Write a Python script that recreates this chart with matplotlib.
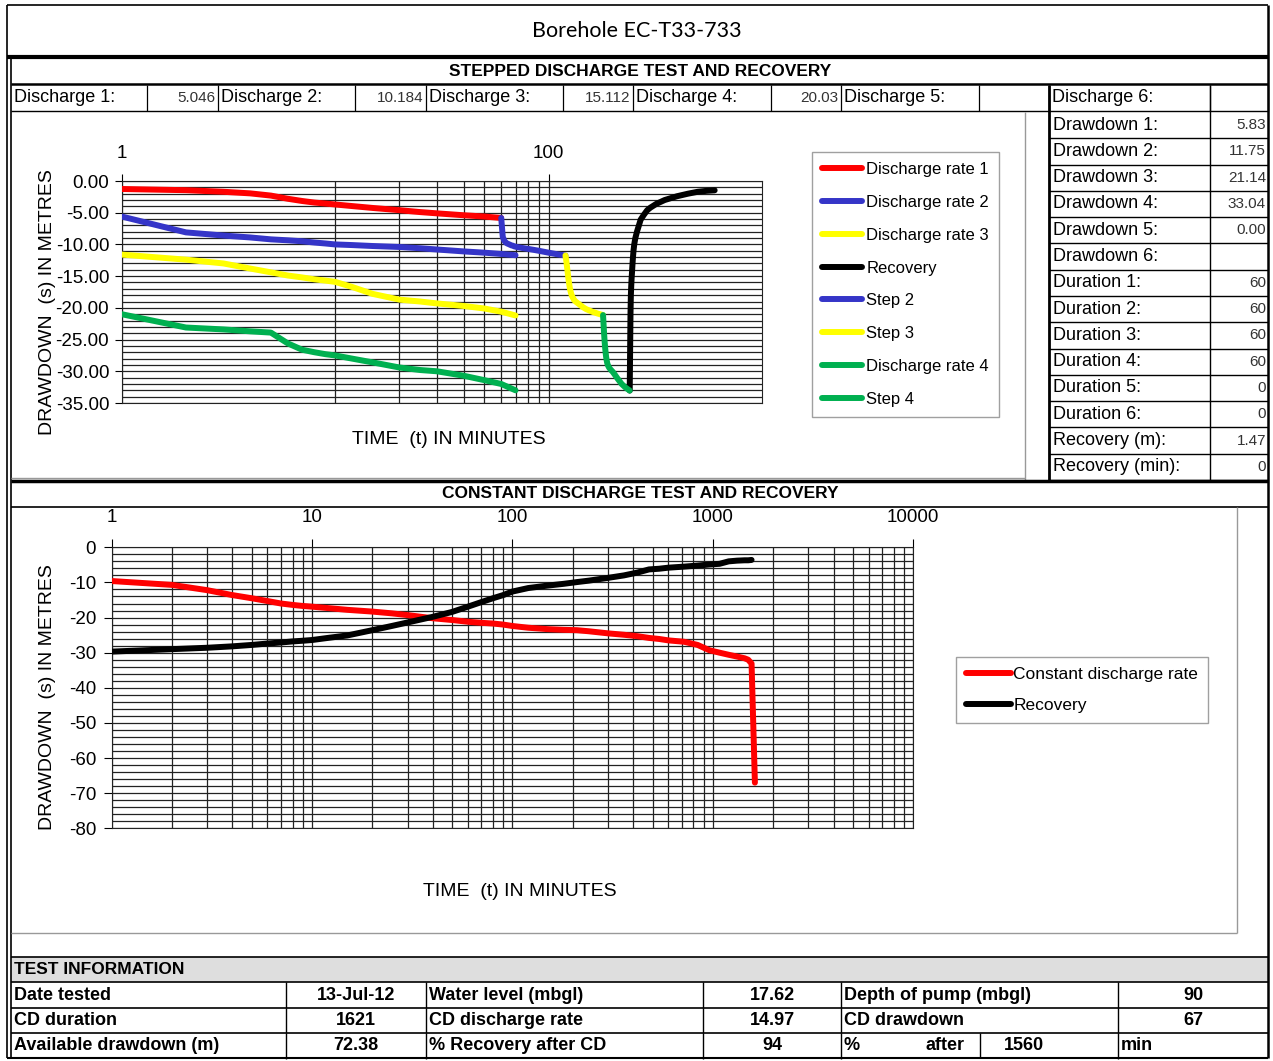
import matplotlib
matplotlib.use("Agg")
import matplotlib.pyplot as plt
from matplotlib.ticker import FixedLocator, FuncFormatter, NullFormatter, LogLocator, MultipleLocator

plt.rcParams['font.family'] = ['Liberation Sans', 'DejaVu Sans']
plt.rcParams['axes.unicode_minus'] = False

W, H = 1273, 1061

# ---- stepped discharge test (minutes, metres) ----
t_step1 = [1, 2, 3, 4, 5, 6, 7, 8, 9, 10, 12, 15, 20, 25, 30, 40, 50, 60]
dd_rate1 = [-1.26, -1.45, -1.7, -1.95, -2.3, -2.8, -3.15, -3.4, -3.55, -3.7, -3.95, -4.25, -4.6, -4.9, -5.1, -5.4, -5.6, -5.83]

t_rates = [1, 2, 3, 4, 5, 6, 7, 8, 9, 10, 12, 15, 20, 25, 30, 40, 50, 60, 70]
dd_rate2 = [-5.6, -8.1, -8.6, -8.9, -9.2, -9.35, -9.5, -9.7, -9.85, -10.0, -10.1, -10.25, -10.4, -10.6, -10.8, -11.1, -11.3, -11.5, -11.7]
dd_rate3 = [-11.6, -12.4, -13.0, -13.8, -14.4, -14.9, -15.2, -15.5, -15.7, -15.9, -16.7, -17.8, -18.7, -19.0, -19.3, -19.7, -20.1, -20.6, -21.2]
dd_rate4 = [-21.0, -23.1, -23.4, -23.7, -23.9, -25.6, -26.6, -27.0, -27.3, -27.5, -28.0, -28.6, -29.4, -29.8, -30.0, -30.7, -31.4, -32.0, -33.0]

t_step2 = [60, 61, 62, 63, 64, 65, 66, 67, 68, 69, 70, 72, 75, 80, 85, 90, 100, 110, 120]
dd_step2 = [-5.83, -8.8, -9.4, -9.7, -9.85, -9.95, -10.05, -10.15, -10.2, -10.3, -10.35, -10.45, -10.55, -10.7, -10.85, -11.0, -11.3, -11.55, -11.75]

t_step3 = [120, 121, 122, 123, 124, 125, 126, 127, 128, 129, 130, 132, 135, 140, 145, 150, 160, 170, 180]
dd_step3 = [-11.75, -12.5, -13.5, -14.5, -15.5, -16.3, -17.0, -17.5, -17.9, -18.2, -18.4, -18.8, -19.1, -19.5, -19.9, -20.2, -20.6, -20.9, -21.14]

t_step4 = [180, 181, 182, 183, 184, 185, 186, 187, 188, 189, 190, 192, 195, 200, 205, 210, 220, 230, 240]
dd_step4 = [-21.14, -22.6, -24.0, -25.2, -26.2, -27.0, -27.7, -28.2, -28.6, -28.9, -29.1, -29.4, -29.7, -30.1, -30.6, -31.1, -32.0, -32.6, -33.04]

t_rec = [240, 241, 242, 243, 244, 245, 246, 247, 248, 249, 250, 252, 255, 260, 265, 270, 280, 290, 300, 320, 350, 400, 450, 500, 550, 600]
dd_rec = [-33.04, -27.0, -21.0, -18.0, -16.5, -15.3, -14.4, -13.4, -12.5, -11.7, -11.0, -10.0, -9.0, -7.9, -7.0, -6.1, -5.3, -4.6, -4.2, -3.6, -3.0, -2.4, -2.0, -1.7, -1.55, -1.47]

# ---- constant discharge test ----
t_cd = [1, 2, 3, 4, 5, 6, 7, 8, 9, 10, 12, 15, 20, 25, 30, 40, 50, 60, 70, 80, 90, 100, 120, 150, 180, 210, 240,
        300, 360, 420, 480, 540, 600, 720, 840, 960, 1080, 1200, 1320, 1440, 1500, 1560, 1621]
dd_cd = [-9.6, -10.7, -12.2, -13.6, -14.5, -15.3, -16.0, -16.4, -16.7, -16.9, -17.3, -17.8, -18.3, -18.8, -19.3,
         -20.2, -20.7, -21.2, -21.5, -21.7, -22.0, -22.4, -22.9, -23.3, -23.5, -23.6, -23.9,
         -24.5, -24.9, -25.3, -25.8, -26.1, -26.5, -26.9, -27.8, -29.3, -30.0, -30.6, -31.1, -31.6, -32.0, -33.1, -67.0]
t_cdrec = t_cd[:-1]
dd_cdrec = [-29.7, -29.0, -28.6, -28.2, -27.8, -27.4, -27.1, -26.8, -26.6, -26.4, -25.8, -25.1, -23.6, -22.4, -21.4,
            -19.8, -18.4, -16.9, -15.6, -14.5, -13.6, -12.6, -11.6, -10.9, -10.4, -9.9, -9.5,
            -8.7, -8.0, -7.2, -6.3, -6.1, -5.8, -5.5, -5.2, -4.9, -4.7, -4.0, -3.8, -3.7, -3.7, -3.6]

# ---- sheet tables ----
discharge_labels = ["Discharge 1:", "Discharge 2:", "Discharge 3:", "Discharge 4:", "Discharge 5:", "Discharge 6:"]
discharge_values = ["5.046", "10.184", "15.112", "20.03", "", ""]
side_labels = ["Drawdown 1:", "Drawdown 2:", "Drawdown 3:", "Drawdown 4:", "Drawdown 5:", "Drawdown 6:",
               "Duration 1:", "Duration 2:", "Duration 3:", "Duration 4:", "Duration 5:", "Duration 6:",
               "Recovery (m):", "Recovery (min):"]
side_values = ["5.83", "11.75", "21.14", "33.04", "0.00", "", "60", "60", "60", "60", "0", "0", "1.47", "0"]
info_rows = [["Date tested", "13-Jul-12", "Water level (mbgl)", "17.62", "Depth of pump (mbgl)", "90"],
             ["CD duration", "1621", "CD discharge rate", "14.97", "CD drawdown", "67"],
             ["Available drawdown (m)", "72.38", "% Recovery after CD", "94", "%", "min"]]
recovery_after = "1560"

RED, BLUE, YEL, GRN, BLK = "#ff0000", "#3535c8", "#ffff00", "#00b050", "#000000"

fig = plt.figure(figsize=(W / 100, H / 100), dpi=100)
bg = fig.add_axes([0, 0, 1, 1])
bg.set_xlim(0, W)
bg.set_ylim(H, 0)
bg.axis("off")


def hline(y, x0, x1, lw=1.0, c="black"):
    bg.plot([x0, x1], [y, y], color=c, lw=lw, solid_capstyle="butt")


def vline(x, y0, y1, lw=1.0, c="black"):
    bg.plot([x, x], [y0, y1], color=c, lw=lw, solid_capstyle="butt")


# frame
hline(5, 7, 1268, 1.2)
vline(7, 5, 1058, 1.2)
vline(11, 57, 1058, 1.2)
vline(1268, 5, 1058, 1.8)
hline(57, 7, 1268, 3)
hline(1058, 7, 1268, 1.5)
bg.text(637, 31, "Borehole EC-T33-733", ha="center", va="center", fontsize=15.5, family=["Lato", "DejaVu Sans"])

# stepped header + discharge row
bg.text(640, 71, "STEPPED DISCHARGE TEST AND RECOVERY", ha="center", va="center", fontsize=12.5, fontweight="bold")
hline(84, 11, 1268, 1.8)
cells = [(11, 147, 218), (218, 355, 426), (426, 563, 633), (633, 771, 841), (841, 979, 1049), (1049, 1210, 1268)]
for (x0, xm, x1), lab, val in zip(cells, discharge_labels, discharge_values):
    bg.text(x0 + 3, 98, lab, ha="left", va="center", fontsize=13)
    bg.text(x1 - 3, 98, val, ha="right", va="center", fontsize=11, color="#333333")
    vline(xm, 85, 111, 0.9)
    vline(x1, 85, 111, 0.9)
vline(1049, 85, 480, 2)
hline(111, 11, 1268, 1.0)

# right side table
row_h = (480 - 112) / 14
for k, (lab, val) in enumerate(zip(side_labels, side_values)):
    yc = 112 + row_h * (k + 0.5)
    bg.text(1053, yc, lab, ha="left", va="center", fontsize=13)
    bg.text(1266, yc, val, ha="right", va="center", fontsize=11, color="#333333")
    hline(112 + row_h * (k + 1), 1049, 1268, 1.0)
vline(1210, 85, 480, 1.0)
vline(1025, 112, 480, 1.0, "#999999")
hline(478, 11, 1025, 1.0, "#999999")

# constant header
hline(481, 11, 1268, 2.5)
bg.text(640, 494, "CONSTANT DISCHARGE TEST AND RECOVERY", ha="center", va="center", fontsize=12.5, fontweight="bold")
hline(507, 11, 1268, 1.2)
vline(1237, 507, 933, 1.0, "#999999")
hline(933, 11, 1237, 1.0, "#999999")

# test information
bg.add_patch(plt.Rectangle((11, 957), 1257, 25, facecolor="#dedede", edgecolor="none"))
hline(957, 11, 1268, 1.2)
bg.text(14, 970, "TEST INFORMATION", ha="left", va="center", fontsize=12.5, fontweight="bold")
cols = [11, 286, 426, 703, 841, 1118, 1268]
for r, row in enumerate(info_rows):
    y0 = 982 + r * 25.5
    yc = y0 + 13
    hline(y0, 11, 1268, 1.2)
    for c in range(6):
        x0, x1 = cols[c], cols[c + 1]
        if c % 2 == 0 or row[c] == "min":
            bg.text(x0 + 3, yc, row[c], ha="left", va="center", fontsize=13, fontweight="bold")
        else:
            bg.text((x0 + x1) / 2, yc, row[c], ha="center", va="center", fontsize=13, fontweight="bold")
    for x in cols[1:-1]:
        vline(x, y0, y0 + 25.5, 1.0)
# last row: "% after 1560 min"
vline(980, 1033, 1058, 1.0)
bg.text(945, 1046, "after", ha="center", va="center", fontsize=13, fontweight="bold")
bg.text(1024, 1046, recovery_after, ha="center", va="center", fontsize=13, fontweight="bold")

# axis titles
bg.text(48, 302, "DRAWDOWN  (s) IN METRES", rotation=90, ha="center", va="center", fontsize=14)
bg.text(449, 439, "TIME  (t) IN MINUTES", ha="center", va="center", fontsize=14)
bg.text(48, 697, "DRAWDOWN  (s) IN METRES", rotation=90, ha="center", va="center", fontsize=14)
bg.text(520, 892, "TIME  (t) IN MINUTES", ha="center", va="center", fontsize=14)


def fig_rect(x0, y0, x1, y1):
    return [x0 / W, 1 - y1 / H, (x1 - x0) / W, (y1 - y0) / H]


gkw = dict(color="#222222", linewidth=0.9)
lkw = dict(lw=4.3, solid_capstyle="round", solid_joinstyle="round", zorder=3)

# ---- stepped chart ----
ax1 = fig.add_axes(fig_rect(121.7, 181, 762, 403))
ax1.plot(t_step1, dd_rate1, color=RED, label="Discharge rate 1", **lkw)
ax1.plot(t_rates, dd_rate2, color=BLUE, label="Discharge rate 2", **lkw)
ax1.plot(t_rates, dd_rate3, color=YEL, label="Discharge rate 3", **lkw)
ax1.plot(t_rec, dd_rec, color=BLK, label="Recovery", **lkw)
ax1.plot(t_step2, dd_step2, color=BLUE, label="Step 2", **lkw)
ax1.plot(t_step3, dd_step3, color=YEL, label="Step 3", **lkw)
ax1.plot(t_rates, dd_rate4, color=GRN, label="Discharge rate 4", **lkw)
ax1.plot(t_step4, dd_step4, color=GRN, label="Step 4", **lkw)
ax1.set_xscale("log")
ax1.set_xlim(1, 1000)
ax1.set_ylim(-35, 0)
ax1.xaxis.set_major_locator(FixedLocator([1, 100]))
ax1.xaxis.set_major_formatter(FuncFormatter(lambda v, p: f"{v:g}"))
ax1.xaxis.set_minor_locator(FixedLocator(list(range(10, 101, 10))))
ax1.xaxis.set_minor_formatter(NullFormatter())
ax1.yaxis.set_major_locator(MultipleLocator(5))
ax1.yaxis.set_minor_locator(MultipleLocator(1))
ax1.yaxis.set_major_formatter(FuncFormatter(lambda v, p: f"{v:.2f}"))
ax1.tick_params(axis="x", which="major", top=True, bottom=False, labeltop=True, labelbottom=False,
                length=5, pad=9, labelsize=13.5)
ax1.tick_params(axis="x", which="minor", top=False, bottom=False)
ax1.tick_params(axis="y", which="major", length=5, pad=4, labelsize=13.5)
ax1.tick_params(axis="y", which="minor", length=0)
ax1.grid(True, which="both", **gkw)
ax1.set_axisbelow(True)
for s in ax1.spines.values():
    s.set_color("#222222")
leg1 = ax1.legend(loc="upper left", bbox_to_anchor=(812 / W, 1 - 152 / H), bbox_transform=fig.transFigure,
                  borderaxespad=0, fontsize=12, handlelength=2.4, handletextpad=0.25, labelspacing=1.07,
                  fancybox=False, edgecolor="#888888", borderpad=0.6)
leg1.get_frame().set_linewidth(1.0)

# ---- constant discharge chart ----
ax2 = fig.add_axes(fig_rect(111.5, 547.3, 913.3, 828.3))
ax2.plot(t_cd, dd_cd, color=RED, label="Constant discharge rate", **lkw)
ax2.plot(t_cdrec, dd_cdrec, color=BLK, label="Recovery", **lkw)
ax2.set_xscale("log")
ax2.set_xlim(1, 10000)
ax2.set_ylim(-80, 0)
ax2.xaxis.set_major_locator(FixedLocator([1, 10, 100, 1000, 10000]))
ax2.xaxis.set_major_formatter(FuncFormatter(lambda v, p: f"{v:g}"))
ax2.xaxis.set_minor_locator(LogLocator(base=10, subs=range(2, 10)))
ax2.xaxis.set_minor_formatter(NullFormatter())
ax2.yaxis.set_major_locator(MultipleLocator(10))
ax2.yaxis.set_minor_locator(MultipleLocator(2))
ax2.yaxis.set_major_formatter(FuncFormatter(lambda v, p: f"{v:.0f}"))
ax2.tick_params(axis="x", which="major", top=True, bottom=False, labeltop=True, labelbottom=False,
                length=6, pad=9, labelsize=13.5)
ax2.tick_params(axis="x", which="minor", top=False, bottom=False)
ax2.tick_params(axis="y", which="major", length=6, pad=5, labelsize=13.5)
ax2.tick_params(axis="y", which="minor", length=0)
ax2.grid(True, which="both", **gkw)
ax2.set_axisbelow(True)
for s in ax2.spines.values():
    s.set_color("#222222")
leg2 = ax2.legend(loc="upper left", bbox_to_anchor=(956 / W, 1 - 657 / H), bbox_transform=fig.transFigure,
                  borderaxespad=0, fontsize=12.5, handlelength=2.6, handletextpad=0.15, labelspacing=0.95,
                  fancybox=False, edgecolor="#888888", borderpad=0.55)
leg2.get_frame().set_linewidth(1.0)

fig.savefig("out.png", dpi=100)
